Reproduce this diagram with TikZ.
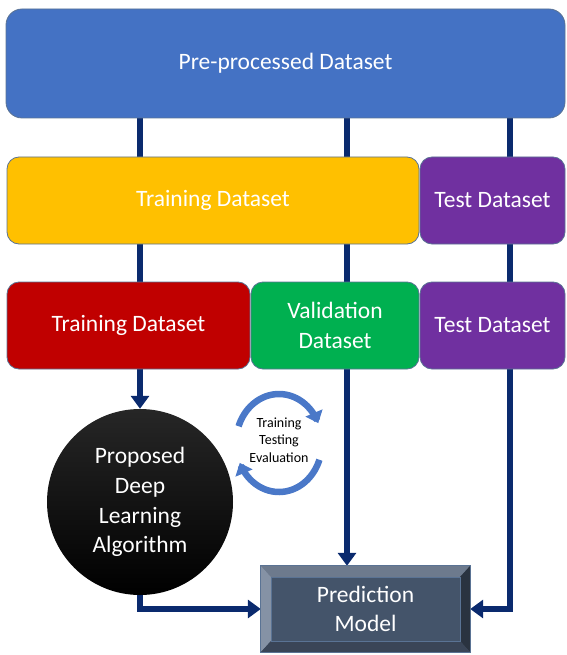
\documentclass[tikz,border=0pt]{standalone}
\usepackage{fontspec}
\setmainfont{Carlito}
\usetikzlibrary{arrows.meta,backgrounds,calc}
\definecolor{preblue}{HTML}{4472C4}
\definecolor{gold}{HTML}{FFC000}
\definecolor{plum}{HTML}{7030A0}
\definecolor{crimson}{HTML}{C00000}
\definecolor{leaf}{HTML}{00B050}
\definecolor{navy}{HTML}{0A2A6E}
\definecolor{edgeblue}{HTML}{5A7394}
\definecolor{slateface}{HTML}{44546A}
\definecolor{bevtop}{HTML}{6D7A8D}
\definecolor{bevleft}{HTML}{8592A5}
\definecolor{bevright}{HTML}{2A3340}
\definecolor{bevbottom}{HTML}{3A4557}
\definecolor{cycblue}{HTML}{4A78C8}
\begin{document}
\begin{tikzpicture}[x=1pt,y=-1pt,
  box/.style={draw=edgeblue, line width=0.8pt, rounded corners=12pt, inner sep=0pt,
    text=white, align=center, font=\fontsize{23.5}{29.5}\selectfont},
  flow/.style={draw=navy, line width=6pt, line join=miter,
    -{Triangle[length=13pt,width=18pt]}},
  cycarrow/.style={draw=cycblue, line width=6.5pt,
    -{Triangle[length=11pt,width=18pt]}}
]
\useasboundingbox (0,0) rectangle (566,655);

% data blocks
\node[box, rounded corners=16pt, fill=preblue, minimum width=559pt, minimum height=109pt]
  (pre) at (285.5,63.5) {Pre-processed Dataset};

\node[box, fill=gold, minimum width=412pt, minimum height=87pt]
  (train1) at (213,200.5) {Training Dataset};
\node[box, fill=plum, minimum width=145pt, minimum height=87pt]
  (test1) at (492.5,200.5) {Test Dataset};

\node[box, fill=crimson, minimum width=243pt, minimum height=87pt]
  (train2) at (128.5,325.5) {Training Dataset};
\node[box, fill=leaf, minimum width=168pt, minimum height=87pt]
  (val) at (335,325.5) {Validation\\Dataset};
\node[box, fill=plum, minimum width=145pt, minimum height=87pt]
  (test2) at (492.5,325.5) {Test Dataset};

% model circle
\node[circle, minimum size=186pt, inner sep=0pt, top color=black!85, bottom color=black,
  text=white, align=center, font=\fontsize{23.5}{29.8}\selectfont]
  (circ) at (140,502) {Proposed\\Deep\\Learning\\Algorithm};

% bevelled prediction block
\node[fill=slateface, minimum width=209pt, minimum height=86pt, inner sep=0pt,
  text=white, align=center, font=\fontsize{23.5}{29.5}\selectfont]
  (pred) at (365.5,609) {Prediction\\Model};
\fill[bevtop] (pred.north west) -- (pred.north east) -- ($(pred.north east)+(-10,11)$)
  -- ($(pred.north west)+(10,11)$) -- cycle;
\fill[bevleft] (pred.north west) -- ($(pred.north west)+(10,11)$)
  -- ($(pred.south west)+(10,-11)$) -- (pred.south west) -- cycle;
\fill[bevright] (pred.north east) -- ($(pred.north east)+(-10,11)$)
  -- ($(pred.south east)+(-10,-11)$) -- (pred.south east) -- cycle;
\fill[bevbottom] (pred.south west) -- ($(pred.south west)+(10,-11)$)
  -- ($(pred.south east)+(-10,-11)$) -- (pred.south east) -- cycle;
\draw[edgeblue, line width=0.6pt] ($(pred.north west)+(10,11)$) rectangle ($(pred.south east)+(-10,-11)$);
\draw[edgeblue, line width=0.8pt] (pred.north west) rectangle (pred.south east);

% training cycle
\node[align=center, inner sep=0pt, font=\fontsize{14}{17.5}\selectfont]
  (cyc) at (279,440) {Training\\Testing\\Evaluation};
\draw[cycarrow] plot[domain=160:24, samples=40] ({279+43*cos(\x)},{443-49*sin(\x)});
\draw[cycarrow] plot[domain=-20:-156, samples=40] ({279+43*cos(\x)},{443-49*sin(\x)});

% data flow
\begin{scope}[on background layer]
  \coordinate (m) at (347,0);
  \coordinate (r) at (510,0);
  \draw[flow] (pre.south -| circ.north) -- (circ.north);
  \draw[flow] (pre.south -| m) -- (pred.north -| m);
  \draw[flow] (pre.south -| r) |- (pred.east);
  \draw[flow] (circ.south) |- (pred.west);
\end{scope}
\end{tikzpicture}
\end{document}
